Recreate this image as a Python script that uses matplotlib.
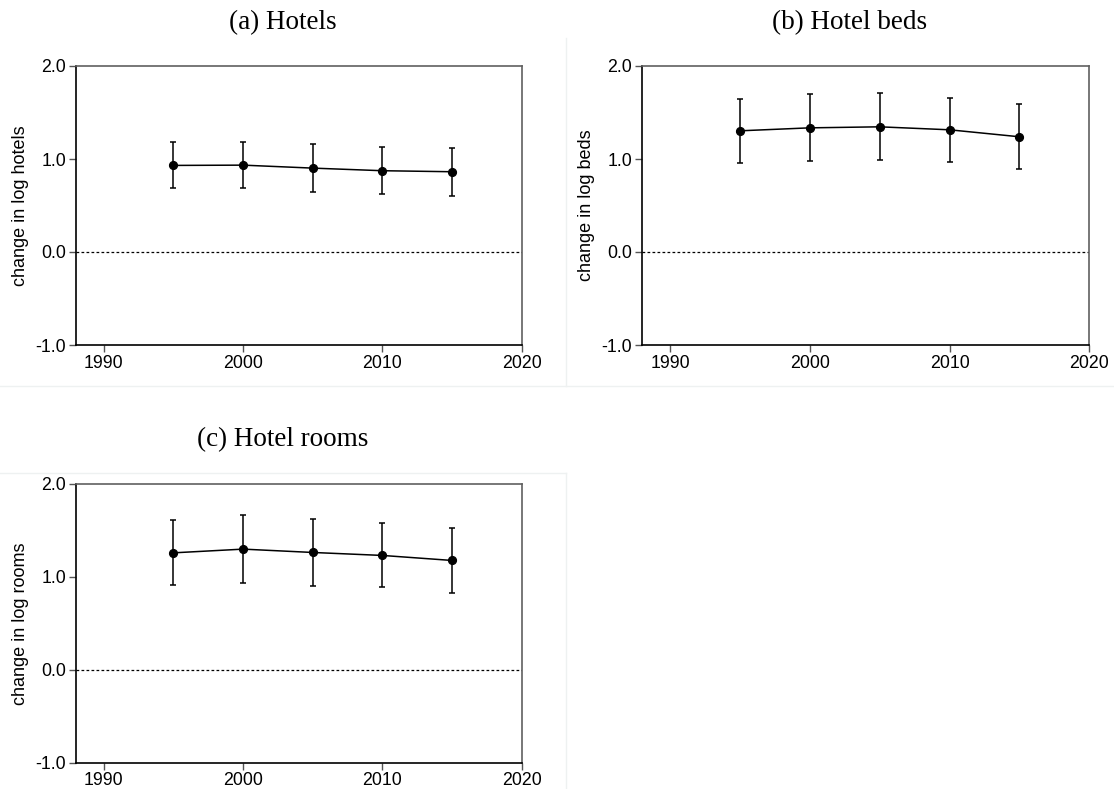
import matplotlib
matplotlib.use("Agg")
import matplotlib.pyplot as plt
from matplotlib.lines import Line2D
import numpy as np

years = [1995, 2000, 2005, 2010, 2015]

hotels_est = [0.931, 0.934, 0.902, 0.874, 0.863]
hotels_lo = [0.691, 0.691, 0.644, 0.623, 0.605]
hotels_hi = [1.178, 1.181, 1.160, 1.124, 1.117]

beds_est = [1.303, 1.335, 1.346, 1.314, 1.239]
beds_lo = [0.956, 0.977, 0.988, 0.970, 0.895]
beds_hi = [1.647, 1.701, 1.711, 1.661, 1.593]

rooms_est = [1.259, 1.299, 1.263, 1.231, 1.177]
rooms_lo = [0.915, 0.936, 0.904, 0.886, 0.825]
rooms_hi = [1.611, 1.661, 1.625, 1.579, 1.529]

titles = ["(a) Hotels", "(b) Hotel beds", "(c) Hotel rooms"]
ylabels = ["change in log hotels", "change in log beds", "change in log rooms"]
xticks = [1990, 2000, 2010, 2020]
yticks = [-1.0, 0.0, 1.0, 2.0]
ytick_labels = ["-1.0", "0.0", "1.0", "2.0"]

W, H = 1114, 789
fig = plt.figure(figsize=(W / 100, H / 100), dpi=100)

def frac_rect(x0, y0, x1, y1):
    return [x0 / W, 1 - y1 / H, (x1 - x0) / W, (y1 - y0) / H]

rects = [frac_rect(76, 66, 521.7, 345),
         frac_rect(642, 66, 1089.3, 345),
         frac_rect(76, 484, 521.7, 762.7)]
title_pos = [(283, 23), (850, 23), (283, 440)]
label_x = [29, 595, 29]  # right edge (px) of rotated y label

# faint panel borders
faint = "#eef1f1"
fig.add_artist(Line2D([566 / W, 566 / W], [1 - 38 / H, 1 - 386 / H], color=faint, lw=1, transform=fig.transFigure))
fig.add_artist(Line2D([0, 1], [1 - 386 / H, 1 - 386 / H], color=faint, lw=1, transform=fig.transFigure))
fig.add_artist(Line2D([0, 566 / W], [1 - 472.7 / H, 1 - 472.7 / H], color=faint, lw=1, transform=fig.transFigure))
fig.add_artist(Line2D([566 / W, 566 / W], [1 - 472.7 / H, 0], color=faint, lw=1, transform=fig.transFigure))

data = [(hotels_est, hotels_lo, hotels_hi),
        (beds_est, beds_lo, beds_hi),
        (rooms_est, rooms_lo, rooms_hi)]

for i, (est, lo, hi) in enumerate(data):
    ax = fig.add_axes(rects[i])
    est = np.array(est)
    yerr = np.vstack([est - np.array(lo), np.array(hi) - est])
    ax.axhline(0, color="black", lw=0.9, ls=(0, (2.2, 1.8)), zorder=1)
    ax.errorbar(years, est, yerr=yerr, fmt="o-", color="black", ms=5.6,
                lw=1.1, elinewidth=1.1, capsize=2.0, capthick=1.1, zorder=3)
    ax.set_xlim(1988, 2020)
    ax.set_ylim(-1.0, 2.0)
    ax.set_xticks(xticks)
    ax.set_xticklabels([str(x) for x in xticks])
    ax.set_yticks(yticks)
    ax.set_yticklabels(ytick_labels)
    for side in ["left", "bottom"]:
        ax.spines[side].set_color("black")
        ax.spines[side].set_linewidth(1.2)
    for side in ["top", "right"]:
        ax.spines[side].set_color("#606060")
        ax.spines[side].set_linewidth(1.2)
    ax.tick_params(direction="out", length=5, width=1, color="#555555",
                   labelsize=12.8, pad=2, labelcolor="black")
    for lab in ax.get_xticklabels() + ax.get_yticklabels():
        lab.set_family("Liberation Sans")
    ax.set_ylabel(ylabels[i], fontsize=13, family="Liberation Sans")
    x0 = rects[i][0] * W
    ax.yaxis.set_label_coords((label_x[i] - x0) / (rects[i][2] * W), 0.5)
    tx, ty = title_pos[i]
    fig.text(tx / W, 1 - ty / H, titles[i], ha="center", va="center",
             family="Liberation Serif", fontsize=19.5)

fig.savefig("out.png", dpi=100)
